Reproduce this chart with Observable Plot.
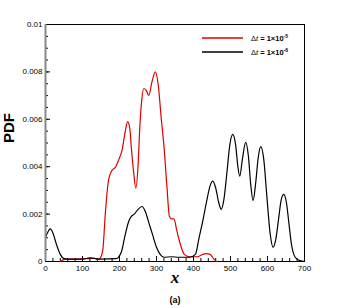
<!DOCTYPE html>
<html>
<head>
<meta charset="utf-8">
<script src="https://cdn.jsdelivr.net/npm/d3@7"></script>
<script src="https://cdn.jsdelivr.net/npm/@observablehq/plot@0.6"></script>
<style>
  html, body { margin: 0; padding: 0; background: #fff; }
  #chart svg { display: block; }
</style>
</head>
<body>
<div id="chart"></div>
<script>
// Series: dt = 1e-5 (red)
const redX = [40, 55, 80, 110, 130, 145, 150, 155, 162, 170, 178, 190, 198, 207, 216, 222, 228, 232, 238, 244, 250, 255, 260, 266, 273, 279, 288, 297, 305, 313, 320, 328, 335, 341, 347, 355, 365, 375, 390, 410, 425, 435, 445, 455, 462];
const redY = [0, 0.0001, 0.0001, 0.00012, 0.00013, 0.0001, 0.0002, 0.0005, 0.0021, 0.0034, 0.0038, 0.0040, 0.0043, 0.0047, 0.00553, 0.0059, 0.0056, 0.0048, 0.0038, 0.0031, 0.0040, 0.0057, 0.0068, 0.0073, 0.0072, 0.0070, 0.0076, 0.0080, 0.0074, 0.0060, 0.0049, 0.0032, 0.0019, 0.0018, 0.0018, 0.0013, 0.0007, 0.0003, 0.0002, 0.0002, 0.0003, 0.00033, 0.0003, 0.0001, 0];
// Series: dt = 1e-6 (black)
const blackX = [0, 5, 13, 20, 30, 40, 50, 60, 100, 120, 150, 190, 198, 205, 215, 225, 232, 240, 250, 261, 270, 280, 290, 300, 310, 320, 340, 360, 390, 405, 415, 425, 435, 445, 452, 460, 468, 475, 482, 490, 498, 506, 514, 520, 525, 532, 541, 548, 555, 561, 568, 575, 582, 590, 598, 607, 615, 622, 630, 637, 644, 651, 658, 665, 671, 680, 690, 700];
const blackY = [0.001, 0.0012, 0.00138, 0.0012, 0.0007, 0.0003, 0.00012, 0.0001, 0.0001, 0.00015, 0.0001, 0.00012, 0.0002, 0.0004, 0.0011, 0.0017, 0.0019, 0.002, 0.0022, 0.00232, 0.0021, 0.0016, 0.0011, 0.0006, 0.0003, 0.00018, 0.0002, 0.00018, 0.00018, 0.0003, 0.001, 0.0017, 0.0025, 0.0032, 0.00339, 0.0031, 0.0025, 0.0022, 0.0026, 0.0037, 0.0049, 0.00536, 0.0049, 0.0040, 0.0036, 0.0043, 0.00503, 0.0045, 0.0032, 0.00257, 0.0033, 0.0044, 0.00485, 0.0043, 0.0028, 0.0012, 0.0006, 0.0009, 0.0018, 0.0026, 0.00283, 0.0025, 0.0016, 0.0007, 0.0003, 0.0001, 0.00003, 0];

const xMajor = [0, 100, 200, 300, 400, 500, 600, 700];
const yMajor = [0, 0.002, 0.004, 0.006, 0.008, 0.01];
const yLabels = ["0", "0.002", "0.004", "0.006", "0.008", "0.01"];
const legendLabels = [{mant: "1", exp: "-5", color: "#e00000"}, {mant: "1", exp: "-6", color: "#000000"}];

const red = redX.map((x, i) => ({x, y: redY[i]}));
const black = blackX.map((x, i) => ({x, y: blackY[i]}));

function legend(index, scales, values, dims) {
  const g = d3.create("svg:g");
  const right = dims.width - dims.marginRight;
  const top = dims.marginTop;
  legendLabels.forEach((d, i) => {
    const yy = top + 14 + i * 14;
    g.append("line")
      .attr("x1", right - 102).attr("x2", right - 61)
      .attr("y1", yy).attr("y2", yy)
      .attr("stroke", d.color).attr("stroke-width", 1.3);
    const t = g.append("text")
      .attr("x", right - 53).attr("y", yy + 2.5)
      .attr("text-anchor", "start")
      .attr("font-family", "Liberation Sans, Arial, sans-serif")
      .attr("font-size", 7.5).attr("font-weight", "bold").attr("fill", "#000");
    t.append("tspan").text("Δ").attr("font-weight", "normal");
    t.append("tspan").text("t").attr("font-style", "italic").attr("font-weight", "normal");
    t.append("tspan").text(" = " + d.mant + "×10");
    t.append("tspan").text(d.exp).attr("font-size", 5).attr("dy", -3);
  });
  return g.node();
}

const chart = Plot.plot({
  width: 346,
  height: 308,
  marginLeft: 45,
  marginRight: 42,
  marginTop: 24,
  marginBottom: 47,
  style: {fontFamily: "Liberation Sans, Arial, sans-serif", background: "#fff"},
  x: {domain: [0, 700], label: null},
  y: {domain: [0, 0.01], label: null},
  marks: [
    // minor ticks
    Plot.axisX({ticks: d3.range(0, 701, 20), tickSize: -3, text: null, label: null, stroke: "#000"}),
    Plot.axisY({ticks: d3.range(0, 0.01001, 0.0005), tickSize: -3, text: null, label: null, stroke: "#000"}),
    // major ticks with labels
    Plot.axisX({ticks: xMajor, tickSize: -5, tickPadding: 9, tickFormat: d => String(d), fontSize: 8, fill: "#000", label: null}),
    Plot.axisY({ticks: yMajor, tickSize: -5, tickPadding: 8, tickFormat: d => yLabels[yMajor.indexOf(d)], fontSize: 8, fill: "#000", label: null}),
    // frame
    Plot.frame({stroke: "#000", strokeWidth: 1}),
    Plot.line(red, {x: "x", y: "y", stroke: "#e00000", strokeWidth: 1.2, curve: "monotone-x"}),
    Plot.line(black, {x: "x", y: "y", stroke: "#000", strokeWidth: 1.2, curve: "monotone-x"}),
    // left spine (grey, thicker)
    Plot.ruleX([0], {stroke: "#888", strokeWidth: 2}),
    // axis titles and caption
    Plot.text(["PDF"], {frameAnchor: "left", dx: -36, rotate: -90, fontSize: 15, fontWeight: "bold", fill: "#000"}),
    Plot.text(["x"], {frameAnchor: "bottom", dy: 21, fontSize: 17, fontWeight: "bold", fontStyle: "italic", fontFamily: "Liberation Serif, Times New Roman, serif", fill: "#000"}),
    Plot.text(["(a)"], {frameAnchor: "bottom", dy: 41, fontSize: 9, fontWeight: "bold", fill: "#000"}),
    legend
  ]
});
document.getElementById("chart").append(chart);
</script>
</body>
</html>
